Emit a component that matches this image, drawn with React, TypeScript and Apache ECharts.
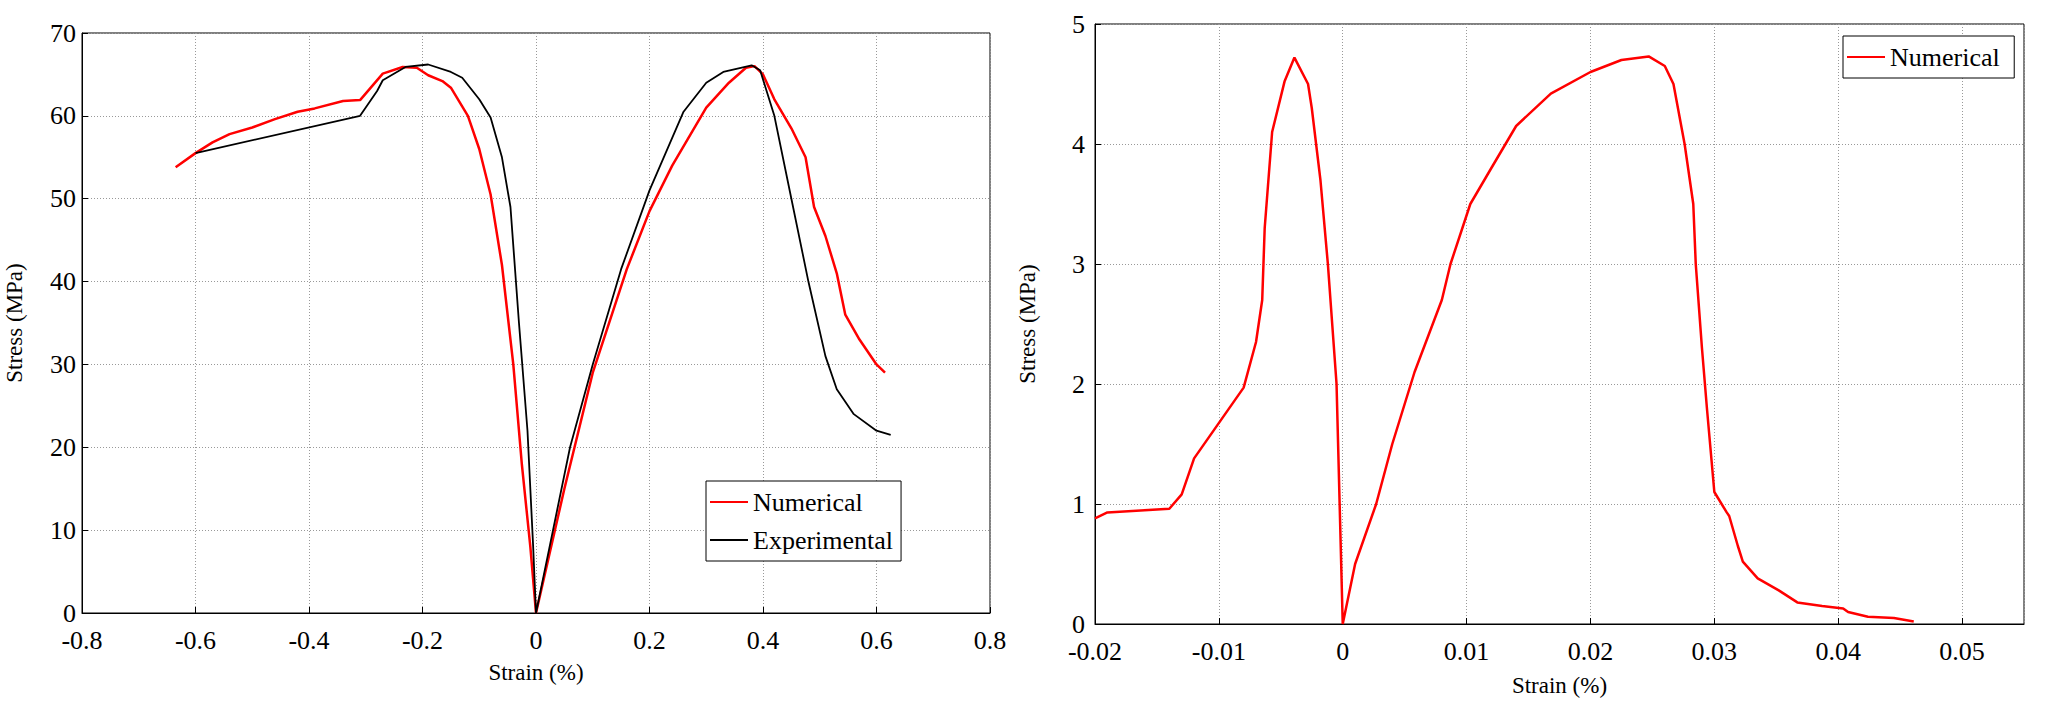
import React, { useEffect, useRef } from 'react';
import * as echarts from 'echarts';

// 左图：数值模拟 [应变, 应力]
const leftNumerical: [number, number][] = [
  [-0.635, 53.8], [-0.6, 55.5], [-0.57, 56.8], [-0.54, 57.8], [-0.5, 58.6], [-0.46, 59.6],
  [-0.42, 60.5], [-0.39, 60.9], [-0.34, 61.8], [-0.31, 61.9], [-0.29, 63.5], [-0.27, 65.1],
  [-0.235, 65.9], [-0.21, 65.8], [-0.19, 64.9], [-0.165, 64.2], [-0.15, 63.4], [-0.12, 60],
  [-0.1, 56], [-0.08, 50.5], [-0.06, 42], [-0.04, 30], [-0.025, 18], [-0.01, 8], [0, 0],
  [0.02, 6], [0.05, 15], [0.1, 29], [0.16, 41.5], [0.2, 48.5], [0.24, 54], [0.3, 61],
  [0.34, 64], [0.37, 65.8], [0.385, 66], [0.4, 65], [0.42, 62], [0.45, 58.5], [0.475, 55],
  [0.49, 49], [0.51, 45.5], [0.53, 41], [0.545, 36], [0.57, 33], [0.6, 30], [0.615, 29],
];

// 左图：实验
const leftExperimental: [number, number][] = [
  [-0.6, 55.5], [-0.31, 60], [-0.28, 63], [-0.27, 64.3], [-0.23, 65.9], [-0.19, 66.2],
  [-0.15, 65.3], [-0.13, 64.6], [-0.1, 62], [-0.08, 59.8], [-0.06, 55], [-0.045, 49],
  [-0.03, 35], [-0.015, 22], [-0.005, 8], [0, 0], [0.03, 10], [0.06, 20], [0.1, 30],
  [0.15, 41.5], [0.2, 51], [0.26, 60.5], [0.3, 64], [0.33, 65.3], [0.38, 66.1], [0.395, 65.5],
  [0.42, 60], [0.45, 50], [0.48, 40], [0.51, 31], [0.53, 27], [0.56, 24], [0.6, 22], [0.625, 21.5],
];

// 右图：数值模拟
const rightNumerical: [number, number][] = [
  [-0.02, 0.88], [-0.019, 0.93], [-0.014, 0.96], [-0.013, 1.08], [-0.012, 1.38], [-0.008, 1.97],
  [-0.007, 2.35], [-0.0065, 2.7], [-0.0063, 3.3], [-0.0057, 4.1], [-0.0047, 4.52], [-0.0039, 4.72],
  [-0.0028, 4.5], [-0.0025, 4.3], [-0.0018, 3.7], [-0.0012, 3.0], [-0.0005, 2.0], [0, 0],
  [0.001, 0.5], [0.0027, 1.0], [0.004, 1.5], [0.0058, 2.1], [0.008, 2.7], [0.0087, 3.0],
  [0.0103, 3.5], [0.012, 3.8], [0.014, 4.15], [0.0168, 4.42], [0.02, 4.6], [0.0225, 4.7],
  [0.0247, 4.73], [0.026, 4.65], [0.0267, 4.5], [0.0276, 4.0], [0.0283, 3.5], [0.0285, 3.0],
  [0.029, 2.3], [0.0294, 1.8], [0.03, 1.1], [0.031, 0.93], [0.0312, 0.9], [0.0319, 0.65],
  [0.0323, 0.52], [0.0335, 0.38], [0.0352, 0.28], [0.0367, 0.18], [0.0387, 0.15], [0.0404, 0.13],
  [0.0408, 0.1], [0.0424, 0.06], [0.0445, 0.05], [0.0461, 0.02],
];

const FONT = '"Liberation Serif", serif';

const axisCommon = {
  axisLine: { show: true, onZero: false, lineStyle: { color: '#000', width: 1 } },
  axisTick: { show: true, inside: true, length: 6, lineStyle: { color: '#000' } },
  splitLine: { show: true, lineStyle: { color: '#999', type: [1, 2] as any, width: 1 } },
  axisLabel: { color: '#000', fontSize: 26, fontFamily: FONT },
  nameTextStyle: { color: '#000', fontSize: 23, fontFamily: FONT },
};

const App: React.FC = () => {
  const chartRef = useRef<HTMLDivElement>(null);

  useEffect(() => {
    if (!chartRef.current) return;
    const chart = echarts.init(chartRef.current, null, { renderer: 'svg' });

    const option: echarts.EChartsOption = {
      animation: false,
      backgroundColor: '#fff',
      grid: [
        { left: 82, top: 33, width: 908, height: 580, show: true, borderColor: '#000', borderWidth: 1 },
        { left: 1095, top: 24, width: 929, height: 600, show: true, borderColor: '#000', borderWidth: 1 },
      ],
      xAxis: [
        {
          ...axisCommon, type: 'value', gridIndex: 0, min: -0.8, max: 0.8, interval: 0.2,
          name: 'Strain (%)', nameLocation: 'middle', nameGap: 48,
          axisLabel: { ...axisCommon.axisLabel, margin: 14, formatter: (v: number) => String(+v.toFixed(1)) },
        },
        {
          ...axisCommon, type: 'value', gridIndex: 1, min: -0.02, max: 0.055, interval: 0.01,
          name: 'Strain (%)', nameLocation: 'middle', nameGap: 50,
          axisLabel: {
            ...axisCommon.axisLabel, margin: 14, showMaxLabel: false,
            formatter: (v: number) => String(+v.toFixed(2)),
          },
        },
      ],
      yAxis: [
        {
          ...axisCommon, type: 'value', gridIndex: 0, min: 0, max: 70, interval: 10,
          name: 'Stress (MPa)', nameLocation: 'middle', nameGap: 56,
          axisLabel: { ...axisCommon.axisLabel, margin: 6, padding: [0, 0, 6, 0] },
        },
        {
          ...axisCommon, type: 'value', gridIndex: 1, min: 0, max: 5, interval: 1,
          name: 'Stress (MPa)', nameLocation: 'middle', nameGap: 56,
          axisLabel: { ...axisCommon.axisLabel, margin: 10, padding: [0, 0, 6, 0] },
        },
      ],
      legend: [
        {
          data: ['Numerical', 'Experimental'].map((n) => ({ name: n })),
          left: 706, top: 481, orient: 'vertical',
          backgroundColor: '#fff', borderColor: '#000', borderWidth: 1, borderRadius: 0,
          padding: [8, 8, 8, 4], itemGap: 12, itemWidth: 38, itemHeight: 14,
          icon: 'path://M0,6H40V8H0Z',
          textStyle: { fontSize: 26, fontFamily: FONT, color: '#000' },
        },
        {
          data: [{ name: 'Numerical ' }],
          left: 1843, top: 36,
          backgroundColor: '#fff', borderColor: '#000', borderWidth: 1, borderRadius: 0,
          padding: [8, 8, 8, 4], itemWidth: 38, itemHeight: 14,
          icon: 'path://M0,6H40V8H0Z',
          textStyle: { fontSize: 26, fontFamily: FONT, color: '#000' },
        },
      ],
      series: [
        {
          name: 'Numerical', type: 'line', xAxisIndex: 0, yAxisIndex: 0, data: leftNumerical,
          showSymbol: false, lineStyle: { color: '#ff0000', width: 2.5 }, itemStyle: { color: '#ff0000' },
        },
        {
          name: 'Experimental', type: 'line', xAxisIndex: 0, yAxisIndex: 0, data: leftExperimental,
          showSymbol: false, lineStyle: { color: '#000', width: 1.8 }, itemStyle: { color: '#000' },
        },
        {
          name: 'Numerical ', type: 'line', xAxisIndex: 1, yAxisIndex: 1, data: rightNumerical,
          showSymbol: false, lineStyle: { color: '#ff0000', width: 2.5 }, itemStyle: { color: '#ff0000' },
        },
      ],
    };

    chart.setOption(option);
    return () => chart.dispose();
  }, []);

  return (
    <div
      ref={chartRef}
      style={{ position: 'absolute', left: 0, top: 0, width: '2050px', height: '703px' }}
    />
  );
};

export default App;
